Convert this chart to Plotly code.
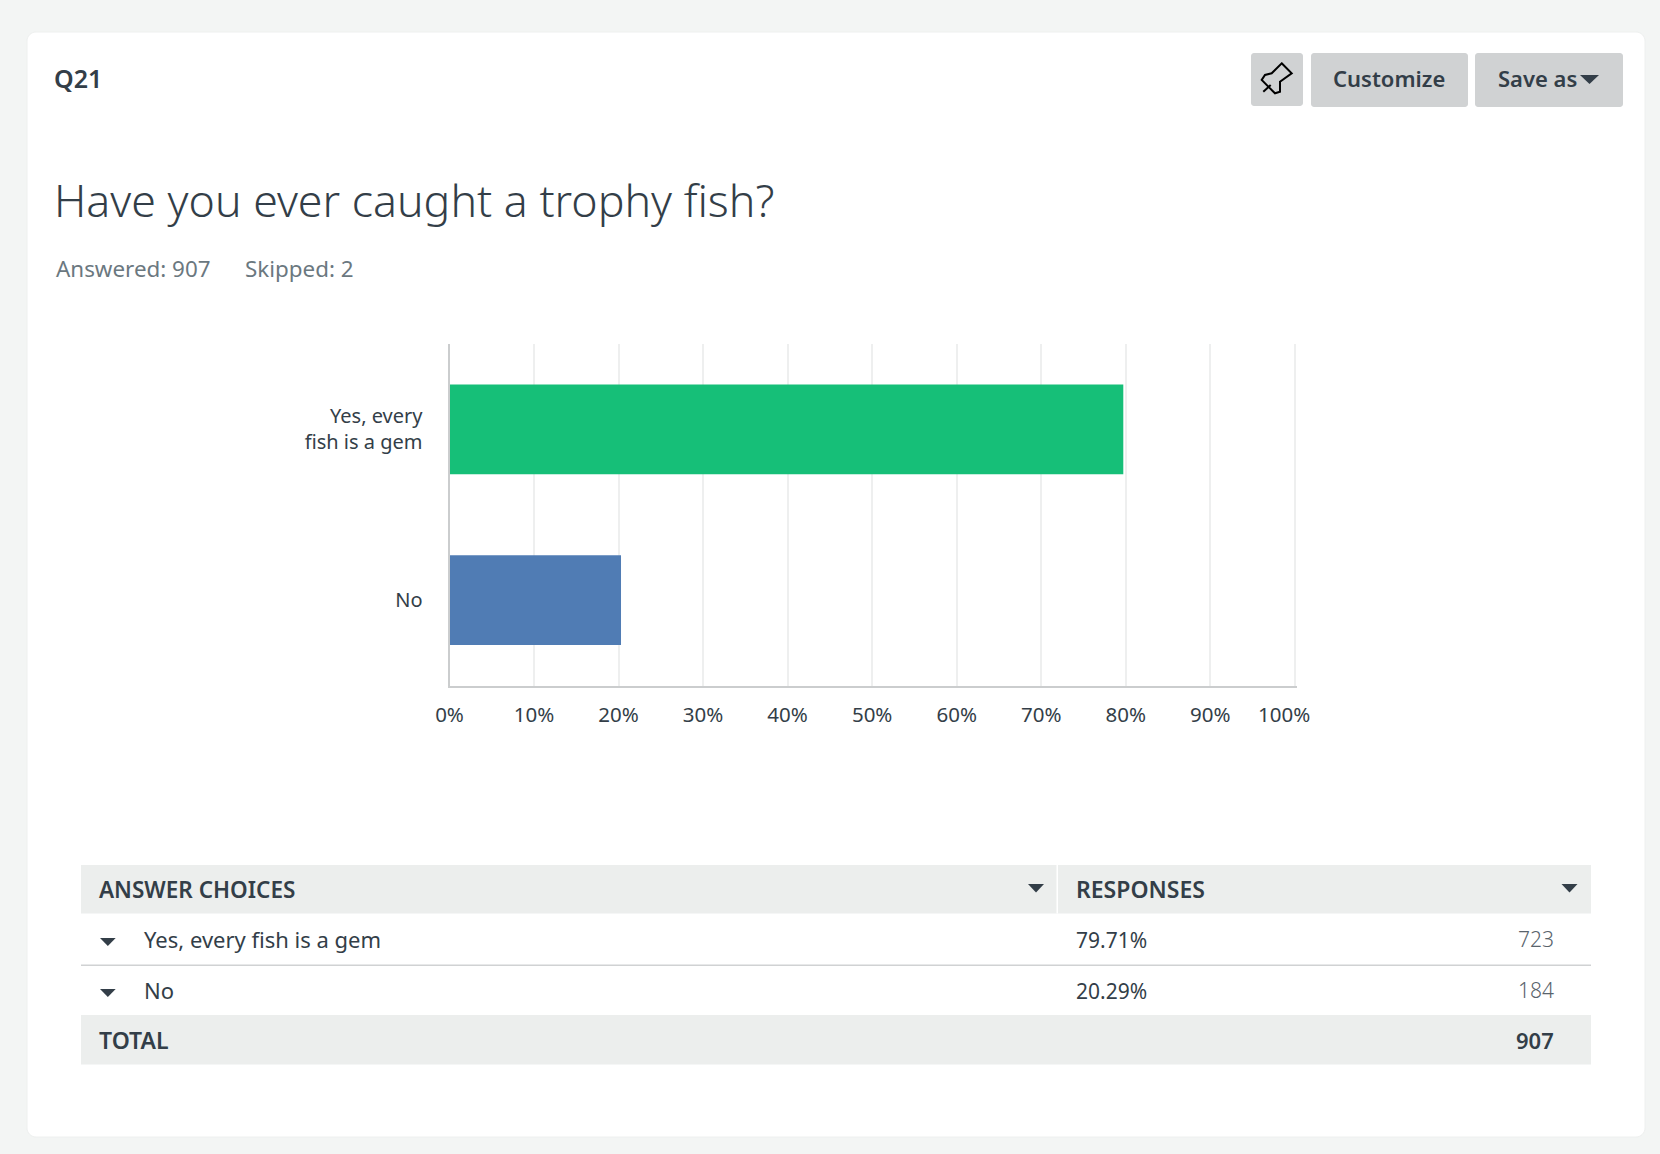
import plotly.graph_objects as go

# ---- data ----
question_id = "Q21"
question = "Have you ever caught a trophy fish?"
answered = "Answered: 907"
skipped = "Skipped: 2"
axis_categories = ["Yes, every<br>fish is a gem", "No"]
table_categories = ["Yes, every fish is a gem", "No"]
percent_values = [79.71, 20.29]
percent_labels = ["79.71%", "20.29%"]
response_counts = ["723", "184"]
total_count = "907"
x_ticks = [0, 10, 20, 30, 40, 50, 60, 70, 80, 90, 100]
x_tick_labels = ["0%", "10%", "20%", "30%", "40%", "50%", "60%", "70%", "80%", "90%",
                 "100%\u00a0\u00a0\u00a0\u00a0"]
bar_colors = ["#16bf78", "#507cb4"]

# ---- page geometry ----
W, H = 1660, 1154
FONT = "Noto Sans"
INK = "#333e48"
PAGE = "#f3f5f4"
BAND = "#eceeed"
BTN = "#d0d2d3"


def px(x):
    return x / W


def py(y):
    return 1 - y / H


def rect(x0, y0, x1, y1, fill):
    return dict(type="rect", xref="paper", yref="paper", layer="below",
                x0=px(x0), x1=px(x1), y0=py(y0), y1=py(y1),
                fillcolor=fill, line=dict(width=0))


def path(points, fill=None, stroke=None, width=0, close=True):
    d = "M " + " L ".join(f"{px(a):.5f} {py(b):.5f}" for a, b in points) + (" Z" if close else "")
    return dict(type="path", xref="paper", yref="paper", layer="above", path=d,
                fillcolor=fill if fill else "rgba(0,0,0,0)",
                line=dict(width=width, color=stroke if stroke else "rgba(0,0,0,0)"))


def rounded(x0, y0, x1, y1, r, fill, line=None):
    c = r * 0.45
    d = (f"M {px(x0+r)} {py(y0)} L {px(x1-r)} {py(y0)} "
         f"C {px(x1-c)} {py(y0)} {px(x1)} {py(y0+c)} {px(x1)} {py(y0+r)} "
         f"L {px(x1)} {py(y1-r)} C {px(x1)} {py(y1-c)} {px(x1-c)} {py(y1)} {px(x1-r)} {py(y1)} "
         f"L {px(x0+r)} {py(y1)} C {px(x0+c)} {py(y1)} {px(x0)} {py(y1-c)} {px(x0)} {py(y1-r)} "
         f"L {px(x0)} {py(y0+r)} C {px(x0)} {py(y0+c)} {px(x0+c)} {py(y0)} {px(x0+r)} {py(y0)} Z")
    return dict(type="path", xref="paper", yref="paper", layer="below", path=d, fillcolor=fill,
                line=dict(width=1 if line else 0, color=line if line else "rgba(0,0,0,0)"))


def tri(x0, x1, y0, y1, fill=INK):
    return path([(x0, y0), (x1, y0), ((x0 + x1) / 2, y1)], fill=fill)


def label(text, x, y, size, color=INK, anchor="left", weight=400):
    return dict(text=text, x=px(x), y=py(y), xref="paper", yref="paper", showarrow=False,
                xanchor=anchor, yanchor="middle", borderpad=0,
                font=dict(family=FONT, size=size, color=color, weight=weight))


shapes = [
    rounded(27, 32, 1645, 1137, 9, "#ffffff", "#eef0ef"),
    rounded(1251, 53, 1303, 106, 3, BTN),
    rounded(1311, 53, 1468, 107, 3, BTN),
    rounded(1475, 53, 1623, 107, 3, BTN),
    rect(81, 865, 1591, 913.5, BAND),
    rect(1056.5, 865, 1058, 913.5, "#ffffff"),
    rect(81, 964.5, 1591, 966, "#d0d2d3"),
    rect(81, 1015, 1591, 1064.5, BAND),
    # pin icon
    path([(1281.7, 63.3), (1291.7, 73.3), (1280, 81.7), (1280, 91.7), (1275, 93.3),
          (1261.7, 80), (1265, 75), (1271.7, 73.3)], stroke="#000000", width=2),
    path([(1263.3, 91.7), (1270.7, 85)], stroke="#000000", width=2, close=False),
    tri(1580, 1599, 75, 84),
    tri(1028, 1044, 884, 892.5),
    tri(1561.5, 1577.5, 884, 892.5),
    tri(100, 115.7, 938, 946),
    tri(100, 115.7, 989, 997),
]

annotations = [
    label(question_id, 53, 78.5, 25, weight=600),
    label("Customize", 1389, 78.5, 22, anchor="center", weight=600),
    label("Save as", 1497, 78.5, 22, weight=600),
    label(question, 53, 199.5, 44.7, weight=300),
    label(answered, 55, 268, 22.4, color="#6b787f"),
    label(skipped, 244, 268, 22.4, color="#6b787f"),
    label("ANSWER CHOICES", 98, 889.5, 22.5, weight=600),
    label("RESPONSES", 1075, 889, 23, weight=600),
    label("TOTAL", 98, 1039.5, 23, weight=600),
    label(total_count, 1555, 1039.5, 22, anchor="right", weight=600),
]
name_ys = [939, 990]
row_ys = [940, 991]
for name, pct, cnt, ny, ry in zip(table_categories, percent_labels, response_counts, name_ys, row_ys):
    annotations += [
        label(name, 143, ny, 22),
        label(pct, 1075, ry, 21),
        label(cnt, 1555, ry - 1, 21, color="#59636c", anchor="right", weight=300),
    ]

fig = go.Figure(go.Bar(
    x=percent_values,
    y=axis_categories,
    orientation="h",
    marker=dict(color=bar_colors, line=dict(width=0)),
    hoverinfo="skip",
))

fig.update_layout(
    width=W, height=H, autosize=False,
    margin=dict(l=0, r=0, t=0, b=0, pad=0, autoexpand=False),
    paper_bgcolor=PAGE, plot_bgcolor="rgba(0,0,0,0)",
    bargap=0.475, showlegend=False,
    font=dict(family=FONT, color=INK),
    shapes=shapes, annotations=annotations,
    xaxis=dict(
        domain=[px(449.5), px(1296.5)], range=[0, 100.2],
        tickmode="array", tickvals=x_ticks, ticktext=x_tick_labels,
        showgrid=True, gridcolor="#eeefef", gridwidth=2, zeroline=False,
        showline=True, linecolor="#cbcdce", linewidth=2,
        ticks="", ticklabelstandoff=10, tickfont=dict(family=FONT, size=20.5, color=INK),
        anchor="y", fixedrange=True,
    ),
    yaxis=dict(
        domain=[py(685.5), py(344)], range=[1.5, -0.5], type="category",
        showgrid=False, zeroline=False,
        showline=True, linecolor="#cbcdce", linewidth=2,
        ticks="", ticklabelstandoff=21, tickfont=dict(family=FONT, size=20, color=INK),
        anchor="x", fixedrange=True,
    ),
)

fig.write_html(
    "out.html",
    config=dict(displayModeBar=False),
    post_script="document.body.style.margin='0';document.body.style.overflow='hidden';"
                f"document.body.style.background='{PAGE}';",
)
